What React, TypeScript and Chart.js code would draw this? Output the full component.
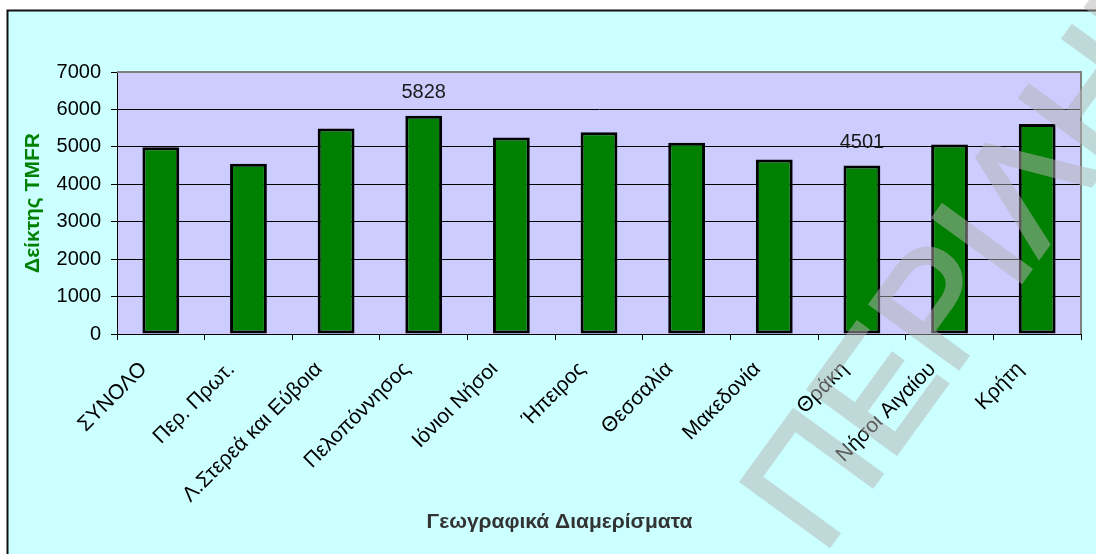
import React, { useEffect, useRef } from 'react';
import { Chart, registerables } from 'chart.js';

Chart.register(...registerables);

// ---- data ----
const categories: string[] = [
  'ΣΥΝΟΛΟ',
  'Περ. Πρωτ.',
  'Λ.Στερεά και Εύβοια',
  'Πελοπόννησος',
  'Ιόνιοι Νήσοι',
  'Ήπειρος',
  'Θεσσαλία',
  'Μακεδονία',
  'Θράκη',
  'Νήσοι Αιγαίου',
  'Κρήτη',
];
const values: number[] = [4990, 4550, 5490, 5828, 5250, 5390, 5110, 4660, 4501, 5060, 5610];
const labeledCategories: string[] = ['Πελοπόννησος', 'Θράκη'];
const yMin = 0;
const yMax = 7000;
const yStep = 1000;
const yAxisTitle = 'Δείκτης TMFR';
const xAxisTitle = 'Γεωγραφικά Διαμερίσματα';
const watermarkText = 'ΠΕΡΙΛΗΨΗ';

const FONT = '"Liberation Sans", Arial, Helvetica, sans-serif';
const W = 1096;
const H = 554;

const framePlugin = {
  id: 'frame',
  beforeDraw(chart: any) {
    const { ctx, chartArea } = chart;
    ctx.save();
    ctx.fillStyle = '#ffffff';
    ctx.fillRect(0, 0, W, H);
    ctx.fillStyle = '#CCFFFF';
    ctx.fillRect(7, 10, W, H);
    ctx.strokeStyle = '#111111';
    ctx.lineWidth = 2;
    ctx.beginPath();
    ctx.moveTo(7.5, H + 5);
    ctx.lineTo(7.5, 10.5);
    ctx.lineTo(W + 5, 10.5);
    ctx.stroke();
    ctx.fillStyle = '#CCCCFF';
    ctx.fillRect(chartArea.left, chartArea.top, chartArea.right - chartArea.left, chartArea.bottom - chartArea.top);
    ctx.restore();
  },
  beforeDatasetsDraw(chart: any) {
    const { ctx, chartArea } = chart;
    ctx.save();
    ctx.strokeStyle = '#808080';
    ctx.lineWidth = 2;
    ctx.beginPath();
    ctx.moveTo(chartArea.left, chartArea.top);
    ctx.lineTo(chartArea.right, chartArea.top);
    ctx.lineTo(chartArea.right, chartArea.bottom);
    ctx.stroke();
    ctx.restore();
  },
};

const labelsPlugin = {
  id: 'valueLabels',
  afterDatasetsDraw(chart: any) {
    const { ctx } = chart;
    const meta = chart.getDatasetMeta(0);
    ctx.save();
    ctx.font = `20px ${FONT}`;
    ctx.fillStyle = '#1a1a1a';
    ctx.textAlign = 'center';
    ctx.textBaseline = 'middle';
    categories.forEach((c, i) => {
      if (!labeledCategories.includes(c)) return;
      const el = meta.data[i];
      ctx.fillText(String(values[i]), el.x, el.y - 23);
    });
    ctx.restore();
  },
};

const overlayPlugin = {
  id: 'overlay',
  afterDraw(chart: any) {
    const { ctx } = chart;
    ctx.save();
    ctx.font = `bold 21px ${FONT}`;
    ctx.fillStyle = '#333333';
    ctx.textAlign = 'center';
    ctx.textBaseline = 'middle';
    ctx.fillText(xAxisTitle, 559.5, 522);
    ctx.restore();

    // watermark, drawn opaque off-screen then composited semi-transparent
    const off = document.createElement('canvas');
    off.width = W;
    off.height = H;
    const o = off.getContext('2d');
    if (!o) return;
    o.translate(822, 556);
    o.rotate((-54 * Math.PI) / 180);
    o.font = `158px ${FONT}`;
    o.fillStyle = 'rgb(180,180,180)';
    o.strokeStyle = 'rgb(180,180,180)';
    o.lineWidth = 4;
    o.textAlign = 'left';
    o.textBaseline = 'alphabetic';
    o.fillText(watermarkText, 0, 0);
    o.strokeText(watermarkText, 0, 0);
    ctx.save();
    ctx.globalAlpha = 0.5;
    ctx.drawImage(off, 0, 0);
    ctx.restore();
  },
};

export default function App() {
  const ref = useRef<HTMLCanvasElement | null>(null);

  useEffect(() => {
    if (!ref.current) return;
    const chart = new Chart(ref.current, {
      type: 'bar',
      data: {
        labels: categories,
        datasets: [
          {
            data: values,
            backgroundColor: '#008000',
            borderColor: '#000000',
            borderWidth: 3,
            borderSkipped: false,
            barPercentage: 0.42,
            categoryPercentage: 1,
          },
        ],
      },
      options: {
        responsive: false,
        animation: false,
        devicePixelRatio: 1,
        layout: { padding: { left: 23, right: 15, top: 72, bottom: 0 } },
        plugins: {
          legend: { display: false },
          tooltip: { enabled: false },
          title: { display: false },
        },
        scales: {
          x: {
            type: 'category',
            offset: true,
            grid: {
              offset: true,
              drawOnChartArea: false,
              drawTicks: true,
              tickLength: 6,
              color: '#000000',
              lineWidth: 1,
            },
            border: { display: true, color: '#000000', width: 1 },
            ticks: {
              autoSkip: false,
              minRotation: 45,
              maxRotation: 45,
              color: '#000000',
              font: { size: 21, family: FONT },
              padding: 17,
              labelOffset: -17,
            },
            afterFit(scale: any) {
              scale.height = 220;
            },
          },
          y: {
            min: yMin,
            max: yMax,
            grid: {
              color: '#000000',
              lineWidth: 1,
              tickLength: 6,
              drawTicks: true,
            },
            border: { display: true, color: '#000000', width: 1 },
            ticks: {
              stepSize: yStep,
              color: '#000000',
              font: { size: 20, family: FONT },
              padding: 10,
              callback: (v: any) => String(v),
            },
            title: {
              display: true,
              text: yAxisTitle,
              color: '#008000',
              font: { size: 21, weight: 'bold', family: FONT, lineHeight: 1 },
              padding: 0,
            },
            afterFit(scale: any) {
              scale.width = 94;
            },
          },
        },
      },
      plugins: [framePlugin, labelsPlugin, overlayPlugin],
    });
    return () => chart.destroy();
  }, []);

  return (
    <div style={{ position: 'absolute', left: 0, top: 0, width: W, height: H, background: '#fff' }}>
      <canvas ref={ref} width={W} height={H} style={{ display: 'block' }} />
    </div>
  );
}
